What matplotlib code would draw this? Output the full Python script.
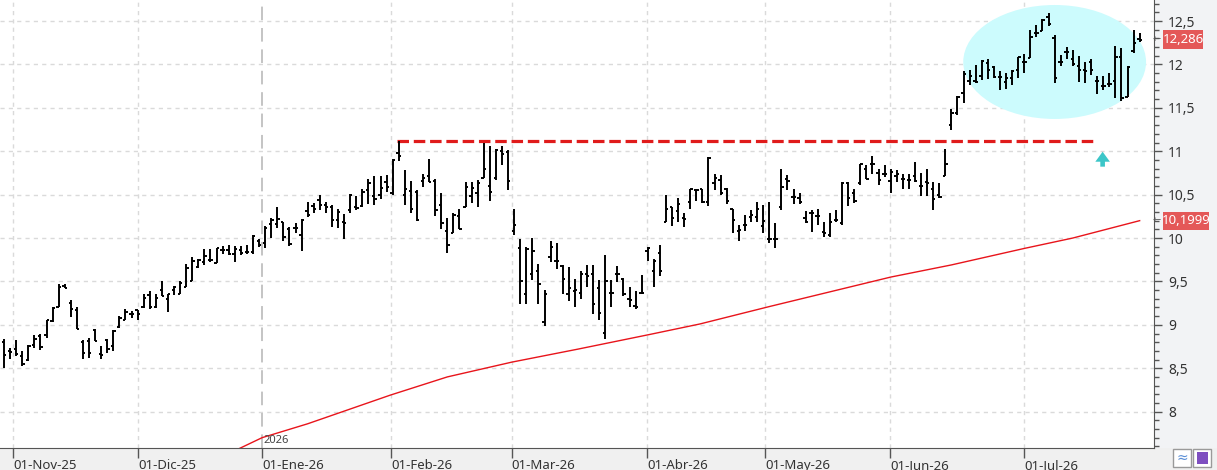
import matplotlib
matplotlib.use("Agg")
import matplotlib.pyplot as plt
from matplotlib.patches import Ellipse, Polygon, Rectangle
from matplotlib.ticker import MultipleLocator, FuncFormatter
from matplotlib.transforms import blended_transform_factory
import numpy as np

# daily OHLC, one bar per trading day (30-Oct-25 .. end of Jul-26)
OPEN = [8.80, 8.70, 8.72, 8.64, 8.59, 8.77, 8.87, 8.88, 9.04, 9.20,
        9.45, 9.25, 9.17, 8.80, 8.81, 8.94, 8.66, 8.82, 8.76, 8.98,
        9.06, 9.13, 9.17, 9.21, 9.34, 9.21, 9.40, 9.30, 9.40, 9.36,
        9.44, 9.50, 9.67, 9.72, 9.75, 9.71, 9.86, 9.86, 9.82, 9.86,
        9.84, 9.84, 9.96, 9.94, 10.16, 10.16, 10.18, 10.10, 10.12, 10.04,
        10.31, 10.37, 10.44, 10.38, 10.36, 10.21, 10.18, 10.32, 10.36, 10.37,
        10.55, 10.48, 10.50, 10.65, 10.52, 10.98, 10.50, 10.54, 10.53, 10.66,
        10.71, 10.66, 10.38, 10.08, 10.06, 10.25, 10.36, 10.48, 10.52, 10.69,
        10.60, 10.69, 11.00, 10.99, 10.08, 9.89, 9.36, 9.59, 9.62, 9.03,
        9.78, 9.74, 9.68, 9.35, 9.39, 9.37, 9.58, 9.59, 9.42, 8.91,
        9.37, 9.59, 9.53, 9.30, 9.22, 9.37, 9.85, 9.62, 9.83, 10.19,
        10.36, 10.31, 10.23, 10.42, 10.55, 10.57, 10.41, 10.63, 10.67, 10.56,
        10.34, 10.08, 10.15, 10.24, 10.24, 10.14, 9.99, 9.99, 10.36, 10.68,
        10.47, 10.46, 10.23, 10.29, 10.25, 10.07, 10.04, 10.21, 10.17, 10.63,
        10.52, 10.63, 10.80, 10.85, 10.75, 10.74, 10.66, 10.71, 10.68, 10.67,
        10.71, 10.60, 10.64, 10.56, 10.50, 10.71, 11.30, 11.44, 11.67, 11.81,
        11.81, 11.87, 12.02, 11.97, 11.85, 11.80, 11.84, 11.94, 12.03, 12.07,
        12.36, 12.39, 12.55, 12.30, 12.03, 12.14, 12.06, 11.98, 11.93, 12.03,
        11.81, 11.75, 11.78, 11.81, 12.08, 11.63, 12.15, 12.29]
HIGH = [8.84, 8.73, 8.82, 8.70, 8.77, 8.88, 8.89, 9.06, 9.20, 9.47,
        9.47, 9.29, 9.20, 8.83, 8.85, 8.95, 8.76, 8.84, 8.94, 9.10,
        9.18, 9.16, 9.17, 9.35, 9.39, 9.36, 9.51, 9.36, 9.45, 9.50,
        9.70, 9.78, 9.76, 9.87, 9.87, 9.88, 9.91, 9.92, 9.91, 9.91,
        9.92, 10.04, 9.99, 10.14, 10.23, 10.36, 10.18, 10.13, 10.17, 10.22,
        10.41, 10.40, 10.49, 10.42, 10.38, 10.33, 10.28, 10.51, 10.48, 10.57,
        10.68, 10.71, 10.71, 10.73, 10.91, 11.12, 10.78, 10.66, 10.55, 10.74,
        10.91, 10.68, 10.52, 10.23, 10.29, 10.33, 10.64, 10.64, 10.67, 11.10,
        11.06, 11.02, 11.06, 11.01, 10.33, 9.99, 9.90, 10.00, 9.70, 9.40,
        9.97, 9.94, 9.69, 9.67, 9.53, 9.62, 9.69, 9.69, 9.52, 9.80,
        9.52, 9.68, 9.54, 9.44, 9.39, 9.57, 9.90, 9.76, 9.92, 10.49,
        10.36, 10.46, 10.29, 10.56, 10.57, 10.57, 10.93, 10.74, 10.73, 10.58,
        10.34, 10.15, 10.26, 10.32, 10.41, 10.38, 10.42, 10.17, 10.79, 10.73,
        10.56, 10.52, 10.31, 10.32, 10.33, 10.19, 10.29, 10.32, 10.64, 10.64,
        10.57, 10.85, 10.84, 10.94, 10.80, 10.84, 10.79, 10.78, 10.74, 10.74,
        10.87, 10.75, 10.79, 10.64, 10.63, 11.02, 11.49, 11.64, 11.92, 11.94,
        11.99, 12.05, 12.06, 11.98, 11.92, 11.90, 11.93, 12.08, 12.12, 12.40,
        12.45, 12.52, 12.59, 12.34, 12.11, 12.20, 12.17, 12.10, 12.03, 12.06,
        11.87, 11.87, 11.90, 12.21, 12.19, 11.98, 12.40, 12.36]
LOW = [8.50, 8.61, 8.64, 8.52, 8.58, 8.73, 8.71, 8.85, 9.03, 9.20,
       9.42, 9.09, 8.95, 8.61, 8.62, 8.81, 8.61, 8.68, 8.70, 8.96,
       9.05, 9.08, 9.05, 9.19, 9.18, 9.19, 9.33, 9.15, 9.34, 9.36,
       9.43, 9.50, 9.65, 9.69, 9.72, 9.71, 9.82, 9.81, 9.72, 9.81,
       9.82, 9.82, 9.90, 9.89, 10.00, 10.12, 9.96, 9.91, 10.06, 9.85,
       10.24, 10.29, 10.32, 10.29, 10.13, 10.11, 9.99, 10.29, 10.32, 10.36,
       10.39, 10.38, 10.45, 10.53, 10.50, 10.89, 10.38, 10.29, 10.20, 10.59,
       10.64, 10.25, 10.10, 9.83, 10.06, 10.10, 10.36, 10.40, 10.36, 10.69,
       10.43, 10.67, 10.84, 10.55, 10.03, 9.24, 9.24, 9.52, 9.24, 8.99,
       9.72, 9.64, 9.36, 9.27, 9.21, 9.30, 9.44, 9.13, 9.05, 8.84,
       9.20, 9.49, 9.33, 9.20, 9.18, 9.36, 9.73, 9.44, 9.56, 10.19,
       10.14, 10.19, 10.13, 10.34, 10.43, 10.40, 10.37, 10.55, 10.49, 10.39,
       10.06, 9.96, 10.08, 10.18, 10.19, 10.06, 9.94, 9.89, 10.32, 10.55,
       10.39, 10.39, 10.17, 10.07, 10.15, 10.01, 10.01, 10.19, 10.15, 10.37,
       10.40, 10.61, 10.68, 10.74, 10.61, 10.70, 10.52, 10.65, 10.57, 10.56,
       10.64, 10.48, 10.48, 10.32, 10.46, 10.71, 11.25, 11.42, 11.56, 11.76,
       11.79, 11.82, 11.83, 11.84, 11.71, 11.72, 11.76, 11.84, 11.90, 12.07,
       12.31, 12.38, 12.44, 11.79, 11.98, 12.06, 11.98, 11.80, 11.79, 11.88,
       11.66, 11.71, 11.74, 11.61, 11.58, 11.62, 12.13, 12.26]
CLOSE = [8.65, 8.69, 8.66, 8.55, 8.76, 8.84, 8.74, 9.05, 9.19, 9.44,
         9.42, 9.18, 8.95, 8.68, 8.68, 8.81, 8.65, 8.72, 8.93, 9.08,
         9.15, 9.13, 9.12, 9.31, 9.21, 9.31, 9.33, 9.35, 9.43, 9.48,
         9.66, 9.73, 9.75, 9.79, 9.75, 9.88, 9.86, 9.82, 9.87, 9.83,
         9.84, 10.02, 9.92, 10.12, 10.21, 10.22, 10.01, 9.93, 10.12, 10.21,
         10.26, 10.33, 10.38, 10.36, 10.21, 10.30, 10.17, 10.49, 10.35, 10.53,
         10.63, 10.45, 10.58, 10.59, 10.90, 10.95, 10.57, 10.33, 10.21, 10.69,
         10.65, 10.32, 10.17, 9.92, 10.27, 10.10, 10.59, 10.58, 10.63, 10.79,
         10.53, 11.01, 10.97, 10.66, 10.15, 9.50, 9.87, 9.85, 9.47, 9.35,
         9.90, 9.73, 9.53, 9.42, 9.40, 9.59, 9.56, 9.24, 9.14, 9.51,
         9.37, 9.59, 9.35, 9.29, 9.20, 9.37, 9.89, 9.73, 9.62, 10.33,
         10.23, 10.39, 10.22, 10.56, 10.55, 10.41, 10.92, 10.69, 10.52, 10.43,
         10.21, 10.09, 10.15, 10.26, 10.34, 10.20, 9.99, 9.99, 10.59, 10.66,
         10.47, 10.42, 10.19, 10.29, 10.25, 10.06, 10.19, 10.21, 10.63, 10.46,
         10.43, 10.85, 10.68, 10.85, 10.67, 10.74, 10.76, 10.74, 10.68, 10.67,
         10.66, 10.60, 10.63, 10.45, 10.47, 10.85, 11.44, 11.63, 11.89, 11.87,
         11.80, 12.04, 11.93, 11.86, 11.85, 11.84, 11.92, 12.08, 12.03, 12.31,
         12.36, 12.51, 12.47, 11.84, 12.03, 12.14, 12.00, 11.94, 11.92, 11.94,
         11.81, 11.75, 11.78, 12.08, 11.61, 11.97, 12.25, 12.286]

# long moving average, sampled at bar positions
MA_IDX = [38, 42.5, 50, 63.6, 73, 83.6, 94.5, 106.4, 114.6, 126, 146, 156, 168, 176, 187]
MA_VAL = [7.55, 7.70, 7.86, 8.19, 8.40, 8.57, 8.72, 8.89, 9.01, 9.21, 9.55, 9.69, 9.88, 10.00, 10.20]

MONTH_LABELS = ["01-Nov-25", "01-Dic-25", "01-Ene-26", "01-Feb-26", "01-Mar-26",
                "01-Abr-26", "01-May-26", "01-Jun-26", "01-Jul-26"]
MONTH_POS = [1.5, 22.1, 42.5, 63.8, 83.6, 105.9, 125.3, 145.9, 168.0]
YEAR_POS = 42.5

RESIST = 11.12
RESIST_FROM, RESIST_TO = 64.7, 180.0
LAST_PRICE = 12.286
LAST_MA = 10.1999

W, H = 1217, 470
AX_R, AX_B = 1154, 448
plt.rcParams["font.family"] = ["Noto Sans", "DejaVu Sans"]

fig = plt.figure(figsize=(W / 100, H / 100), dpi=100)
fig.patch.set_facecolor("white")
fig.add_artist(Rectangle((AX_R / W, 0), 1 - AX_R / W, 1, transform=fig.transFigure,
                         facecolor="#f2f3f5", edgecolor="none", zorder=0))
fig.add_artist(Rectangle((0, 0), 1, (H - AX_B) / H, transform=fig.transFigure,
                         facecolor="#f0f0f0", edgecolor="none", zorder=0))
ax = fig.add_axes([0, (H - AX_B) / H, AX_R / W, AX_B / H])
ax.set_facecolor("white")

ax.set_xlim(-0.66, 189.36)
ax.set_ylim(7.581, 12.742)

# grid
for yv in np.arange(8.0, 12.51, 0.5):
    ax.axhline(yv, color="#dadada", lw=1, dashes=(3, 3), zorder=1)
for p in MONTH_POS:
    if p == YEAR_POS:
        ax.axvline(p, color="#c4c4c4", lw=1.4, dashes=(7, 4), zorder=1)
    else:
        ax.axvline(p, color="#dadada", lw=1, dashes=(3, 3), zorder=1)

# highlight zone
ax.add_patch(Ellipse((173.0, 12.028), 30.1, 1.313, facecolor="#ccfbfd",
                     edgecolor="none", zorder=1.5))

idx = np.arange(len(CLOSE))
ax.vlines(idx, LOW, HIGH, color="black", lw=1.4, zorder=3)
ax.hlines(OPEN, idx - 0.38, idx, color="black", lw=1.4, zorder=3)
ax.hlines(CLOSE, idx, idx + 0.38, color="black", lw=1.4, zorder=3)

ax.plot(MA_IDX, MA_VAL, color="#e8141b", lw=1.0, zorder=2)
ax.hlines(RESIST, RESIST_FROM, RESIST_TO, color="#e01b1b", lw=2.3,
          linestyles=(0, (3.6, 1.5)), zorder=2.5)

# breakout arrow
ax.add_patch(Polygon([(180.9, 10.994), (182.1, 10.879), (181.28, 10.879), (181.28, 10.822),
                      (180.52, 10.822), (180.52, 10.879), (179.7, 10.879)],
                     closed=True, facecolor="#3cc6c8", edgecolor="none", zorder=3))

ax.text(YEAR_POS + 0.3, 7.673, "2026", fontsize=8, color="#444", va="center", ha="left")

# axes styling
for s in ("top", "left"):
    ax.spines[s].set_visible(False)
ax.spines["right"].set_color("#555555")
ax.spines["bottom"].set_color("#555555")
ax.yaxis.tick_right()
ax.yaxis.set_major_locator(MultipleLocator(0.5))
ax.yaxis.set_minor_locator(MultipleLocator(0.1))
ax.yaxis.set_major_formatter(FuncFormatter(lambda v, p: f"{v:g}".replace(".", ",")))
ax.tick_params(axis="y", which="major", length=6, width=1, color="#555555", pad=4,
               labelsize=10, labelcolor="#333333")
ax.tick_params(axis="y", which="minor", length=3.5, width=1, color="#555555")
ax.set_xticks(MONTH_POS)
ax.set_xticklabels(MONTH_LABELS)
ax.tick_params(axis="x", length=7, width=1, color="#555555", pad=1,
               labelsize=9.5, labelcolor="#333333")
for lab in ax.get_xticklabels():
    lab.set_horizontalalignment("left")

# price tags on the right axis
tr = blended_transform_factory(ax.transAxes, ax.transData)
for val, txt, wpx in ((LAST_PRICE, "12,286", 40), (LAST_MA, "10,1999", 46)):
    x0 = 1163 / AX_R
    ax.add_patch(Rectangle((x0, val - 0.105), wpx / AX_R, 0.21, transform=tr,
                           facecolor="#e45858", edgecolor="none", clip_on=False, zorder=5))
    ax.text(x0 + wpx / AX_R / 2, val, txt, transform=tr, color="white", fontsize=9.5,
            ha="center", va="center", clip_on=False, zorder=6)
    ax.text(1157 / AX_R, val, "←", transform=tr, color="#555555", fontsize=7,
            ha="center", va="center", clip_on=False, zorder=6)

# small toolbar buttons, bottom right
for x0, col in ((1173, "#5b8fd6"), (1193, "#7e4fc0")):
    fig.add_artist(Rectangle((x0 / W, 3 / H), 18 / W, 18 / H, transform=fig.transFigure,
                             facecolor="white", edgecolor="#9a9a9a", lw=1, zorder=2))
fig.text(1182 / W, 12 / H, "≈", color="#5b8fd6", fontsize=10, ha="center", va="center")
fig.add_artist(Rectangle((1197 / W, 6 / H), 11 / W, 12 / H, transform=fig.transFigure,
                         facecolor="#7e4fc0", edgecolor="none", zorder=3))

fig.savefig("out.png", dpi=100, facecolor="white")
